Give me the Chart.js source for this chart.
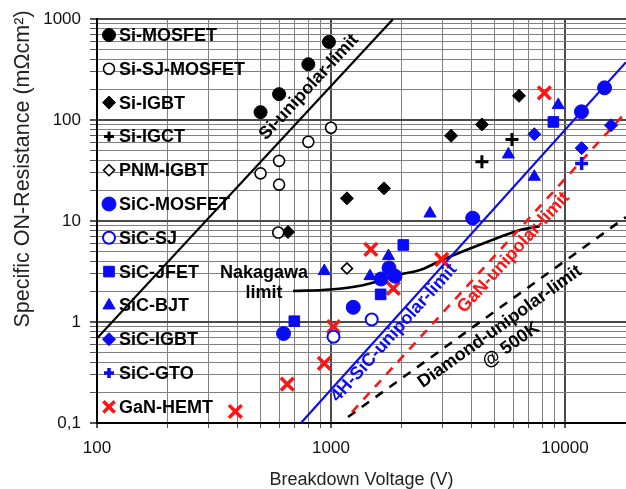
<!DOCTYPE html>
<html>
<head>
<meta charset="utf-8">
<script src="https://cdn.jsdelivr.net/npm/chart.js@4.4.1/dist/chart.umd.min.js"></script>
<style>
  html, body { margin: 0; padding: 0; background: #fff; }
  #wrap { width: 626px; height: 489px; }
</style>
</head>
<body>
<div id="wrap"><canvas id="grafico" width="626" height="489"></canvas></div>
<script>
// pontos: [tensão de ruptura (V), resistência específica (mΩcm²)]
const siMosfet = [[500, 120], [600, 181], [800, 358], [980, 596]];
const siSjMosfet = [[500, 29.7], [600, 39.5], [600, 23], [800, 61], [1000, 84], [595, 7.7]];
const siIgbt = [[655, 7.8], [1170, 16.8], [1685, 21.1], [3260, 70], [4415, 90.6], [6360, 174]];
const siIgct = [[4415, 38.7], [5935, 64.4]];
const pnmIgbt = [[1170, 3.4]];
const sicMosfet = [[627, 0.77], [1245, 1.4], [1636, 2.67], [1770, 3.43], [1877, 2.85], [4033, 10.7], [11760, 121], [14760, 209]];
const sicSj = [[1025, 0.715], [1493, 1.06]];
const sicJfet = [[697, 1.02], [1630, 1.88], [2037, 5.8], [8920, 96]];
const sicBjt = [[936, 3.2], [1468, 2.85], [1761, 4.5], [2650, 11.9], [5730, 45.7], [7395, 27.5], [9355, 141]];
const sicIgbt = [[7395, 72.6], [11780, 52.8], [15730, 89]];
const sicGto = [[11780, 37.2]];
const ganHemt = [[390, 0.13], [650, 0.243], [936, 0.39], [1025, 0.9], [1480, 5.25], [1846, 2.16], [2972, 4.18], [8160, 186]];

// limites (linhas)
const siLimite = [[100, 0.69], [1840, 1000]];
const sicLimite = [[744, 0.1], [18230, 375]];
const ganLimite = [[1229, 0.1285], [18230, 120]];
const diamanteLimite = [[1182, 0.1147], [18230, 10.96]];
const nakagawa = [[688, 2.03], [990, 2.1], [1371, 2.32], [1573, 2.52], [1914, 2.92], [2399, 3.27], [2978, 4.11], [4642, 6.2], [6430, 8.15], [7810, 8.9]];

// eixos
const xMin = 100, xMax = 18230;
const yMin = 0.1, yMax = 1000;
const xTickValores = [100, 1000, 10000];
const xTickLabels = ['100', '1000', '10000'];
const yTickValores = [0.1, 1, 10, 100, 1000];
const yTickLabels = ['0,1', '1', '10', '100', '1000'];

const PRETO = '#000000';
const AZUL = '#0a0af5';
const VERMELHO = '#ff1414';

document.addEventListener('DOMContentLoaded', () => {
  const pts = (arr) => arr.map(([x, y]) => ({ x, y }));

  // grade log 1..9 por década
  const gradeLog = (lo, hi) => {
    const valores = [];
    for (let e = Math.round(Math.log10(lo)); e < Math.round(Math.log10(hi)); e++) {
      for (let m = 1; m < 10; m++) valores.push(+(m * Math.pow(10, e)).toPrecision(2));
    }
    valores.push(hi);
    return valores;
  };
  const xGrade = gradeLog(100, 10000);
  const yGrade = gradeLog(0.1, 1000);

  const marcador = (label, dados, estilo, cor, raio, extra = {}) => ({
    label,
    data: pts(dados),
    pointStyle: estilo,
    pointRadius: raio,
    pointHoverRadius: raio,
    backgroundColor: cor,
    borderColor: cor,
    pointBorderWidth: 1,
    showLine: false,
    legenda: true,
    legendaRaio: raio,
    ...extra,
  });

  const linha = (label, dados, cor, extra = {}) => ({
    label,
    data: pts(dados),
    showLine: true,
    borderColor: cor,
    borderWidth: 2.2,
    pointRadius: 0,
    pointHoverRadius: 0,
    fill: false,
    ...extra,
  });

  const datasets = [
    marcador('Si-MOSFET', siMosfet, 'circle', PRETO, 6.5),
    marcador('Si-SJ-MOSFET', siSjMosfet, 'circle', PRETO, 5.5, { backgroundColor: '#fff', pointBorderWidth: 1.6 }),
    marcador('Si-IGBT', siIgbt, 'rectRot', PRETO, 6.5),
    marcador('Si-IGCT', siIgct, 'cross', PRETO, 6.5, { pointBorderWidth: 3, legendaRaio: 5 }),
    marcador('PNM-IGBT', pnmIgbt, 'rectRot', PRETO, 5.5, { backgroundColor: '#fff', pointBorderWidth: 1.6 }),
    marcador('SiC-MOSFET', sicMosfet, 'circle', AZUL, 7),
    marcador('SiC-SJ', sicSj, 'circle', AZUL, 6, { backgroundColor: '#fff', pointBorderWidth: 2 }),
    marcador('SiC-JFET', sicJfet, 'rect', AZUL, 7.5),
    marcador('SiC-BJT', sicBjt, 'triangle', AZUL, 7),
    marcador('SiC-IGBT', sicIgbt, 'rectRot', AZUL, 6.5),
    marcador('SiC-GTO', sicGto, 'cross', AZUL, 6.5, { pointBorderWidth: 3.5, legendaRaio: 5 }),
    marcador('GaN-HEMT', ganHemt, 'crossRot', VERMELHO, 9, { pointBorderWidth: 3.5, legendaRaio: 8 }),
    linha('Si-unipolar-limit', siLimite, PRETO),
    linha('4H-SiC-unipolar-limit', sicLimite, AZUL),
    linha('GaN-unipolar-limit', ganLimite, VERMELHO, { borderDash: [9, 8], borderWidth: 2.6 }),
    linha('Diamond-unipolar-limit', diamanteLimite, PRETO, { borderDash: [9, 8], borderWidth: 2.6 }),
    linha('Nakagawa limit', nakagawa, PRETO, { borderWidth: 2.6, tension: 0.4, cubicInterpolationMode: 'monotone' }),
  ];

  // textos das linhas, legenda interna e título do eixo y
  const rotulos = {
    id: 'rotulos',
    afterDatasetsDraw(chart) {
      const { ctx, scales: { x, y } } = chart;
      const px = ([vx, vy]) => [x.getPixelForValue(vx), y.getPixelForValue(vy)];
      const angulo = (l) => {
        const a = px(l[0]), b = px(l[l.length - 1]);
        return Math.atan2(b[1] - a[1], b[0] - a[0]);
      };

      const textos = [
        { t: 'Si-unipolar-limit', em: [805, 212], ang: angulo(siLimite), cor: PRETO },
        { t: '4H-SiC-unipolar-limit', em: [1858, 0.778], ang: angulo(sicLimite), cor: AZUL },
        { t: 'GaN-unipolar-limit', em: [6026, 4.88], ang: angulo(ganLimite), cor: VERMELHO },
        { t: 'Diamond-unipolar-limit', em: [5272, 0.898], ang: angulo(diamanteLimite), cor: PRETO },
        { t: '@ 500K', em: [5875, 0.59], ang: angulo(diamanteLimite), cor: PRETO },
        { t: 'Nakagawa', em: [517, 3.05], ang: 0, cor: PRETO },
        { t: 'limit', em: [517, 1.94], ang: 0, cor: PRETO },
      ];

      ctx.save();
      ctx.font = 'bold 18px "Liberation Sans", Arial, sans-serif';
      ctx.textAlign = 'center';
      ctx.textBaseline = 'middle';
      textos.forEach(({ t, em, ang, cor }) => {
        const [cx, cy] = px(em);
        ctx.save();
        ctx.translate(cx, cy);
        ctx.rotate(ang);
        ctx.fillStyle = cor;
        ctx.fillText(t, 0, 0);
        ctx.restore();
      });

      // legenda dentro da área do gráfico
      let i = 0;
      chart.data.datasets.forEach((ds) => {
        if (!ds.legenda) return;
        const ly = 35 + i * 33.8;
        ctx.fillStyle = ds.backgroundColor;
        ctx.strokeStyle = ds.borderColor;
        ctx.lineWidth = ds.pointBorderWidth;
        Chart.helpers.drawPoint(ctx, {
          pointStyle: ds.pointStyle,
          radius: ds.legendaRaio,
          rotation: 0,
          borderWidth: ds.pointBorderWidth,
        }, 109, ly);
        ctx.fillStyle = PRETO;
        ctx.textAlign = 'left';
        ctx.fillText(ds.label, 119, ly + 1);
        i++;
      });

      // título do eixo y
      ctx.translate(23, 169);
      ctx.rotate(-Math.PI / 2);
      ctx.textAlign = 'center';
      ctx.font = '21.5px "Liberation Sans", Arial, sans-serif';
      ctx.fillStyle = '#222';
      ctx.fillText('Specific ON-Resistance (mΩcm²)', 0, 0);
      ctx.restore();
    },
  };

  const corGrade = (ctx) => {
    const v = ctx.tick && ctx.tick.value;
    return [0.1, 1, 10, 100, 1000, 10000].includes(v) ? '#4a4a4a' : '#808080';
  };
  const larguraGrade = (ctx) => {
    const v = ctx.tick && ctx.tick.value;
    return [0.1, 1, 10, 100, 1000, 10000].includes(v) ? 2 : 1;
  };

  new Chart(document.getElementById('grafico'), {
    type: 'scatter',
    data: { datasets },
    options: {
      responsive: false,
      animation: false,
      events: [],
      layout: { autoPadding: false, padding: { top: 19, left: 0, right: 0, bottom: 0 } },
      plugins: {
        legend: { display: false },
        tooltip: { enabled: false },
      },
      scales: {
        x: {
          type: 'logarithmic',
          min: xMin,
          max: xMax,
          afterBuildTicks: (s) => { s.ticks = xGrade.map((value) => ({ value })); },
          afterFit: (s) => { s.height = 66; },
          border: { color: PRETO, width: 2 },
          grid: { color: corGrade, lineWidth: larguraGrade, tickLength: 5, tickColor: '#555' },
          ticks: {
            autoSkip: false,
            maxRotation: 0,
            padding: 10,
            color: '#111',
            font: { size: 17, family: '"Liberation Sans", Arial, sans-serif' },
            callback: (v) => {
              const k = xTickValores.indexOf(v);
              return k >= 0 ? xTickLabels[k] : '';
            },
          },
          title: {
            display: true,
            text: 'Breakdown Voltage (V)',
            color: '#222',
            padding: { top: 0, bottom: 0 },
            font: { size: 18, lineHeight: 1, family: '"Liberation Sans", Arial, sans-serif' },
          },
        },
        y: {
          type: 'logarithmic',
          min: yMin,
          max: yMax,
          afterBuildTicks: (s) => { s.ticks = yGrade.map((value) => ({ value })); },
          afterFit: (s) => { s.width = 97; },
          border: { color: PRETO, width: 2 },
          grid: { color: corGrade, lineWidth: larguraGrade, tickLength: 7, tickColor: '#555' },
          ticks: {
            autoSkip: false,
            padding: 9,
            color: '#111',
            font: { size: 17, family: '"Liberation Sans", Arial, sans-serif' },
            callback: (v) => {
              const k = yTickValores.indexOf(v);
              return k >= 0 ? yTickLabels[k] : '';
            },
          },
        },
      },
    },
    plugins: [rotulos],
  });
});
</script>
</body>
</html>
